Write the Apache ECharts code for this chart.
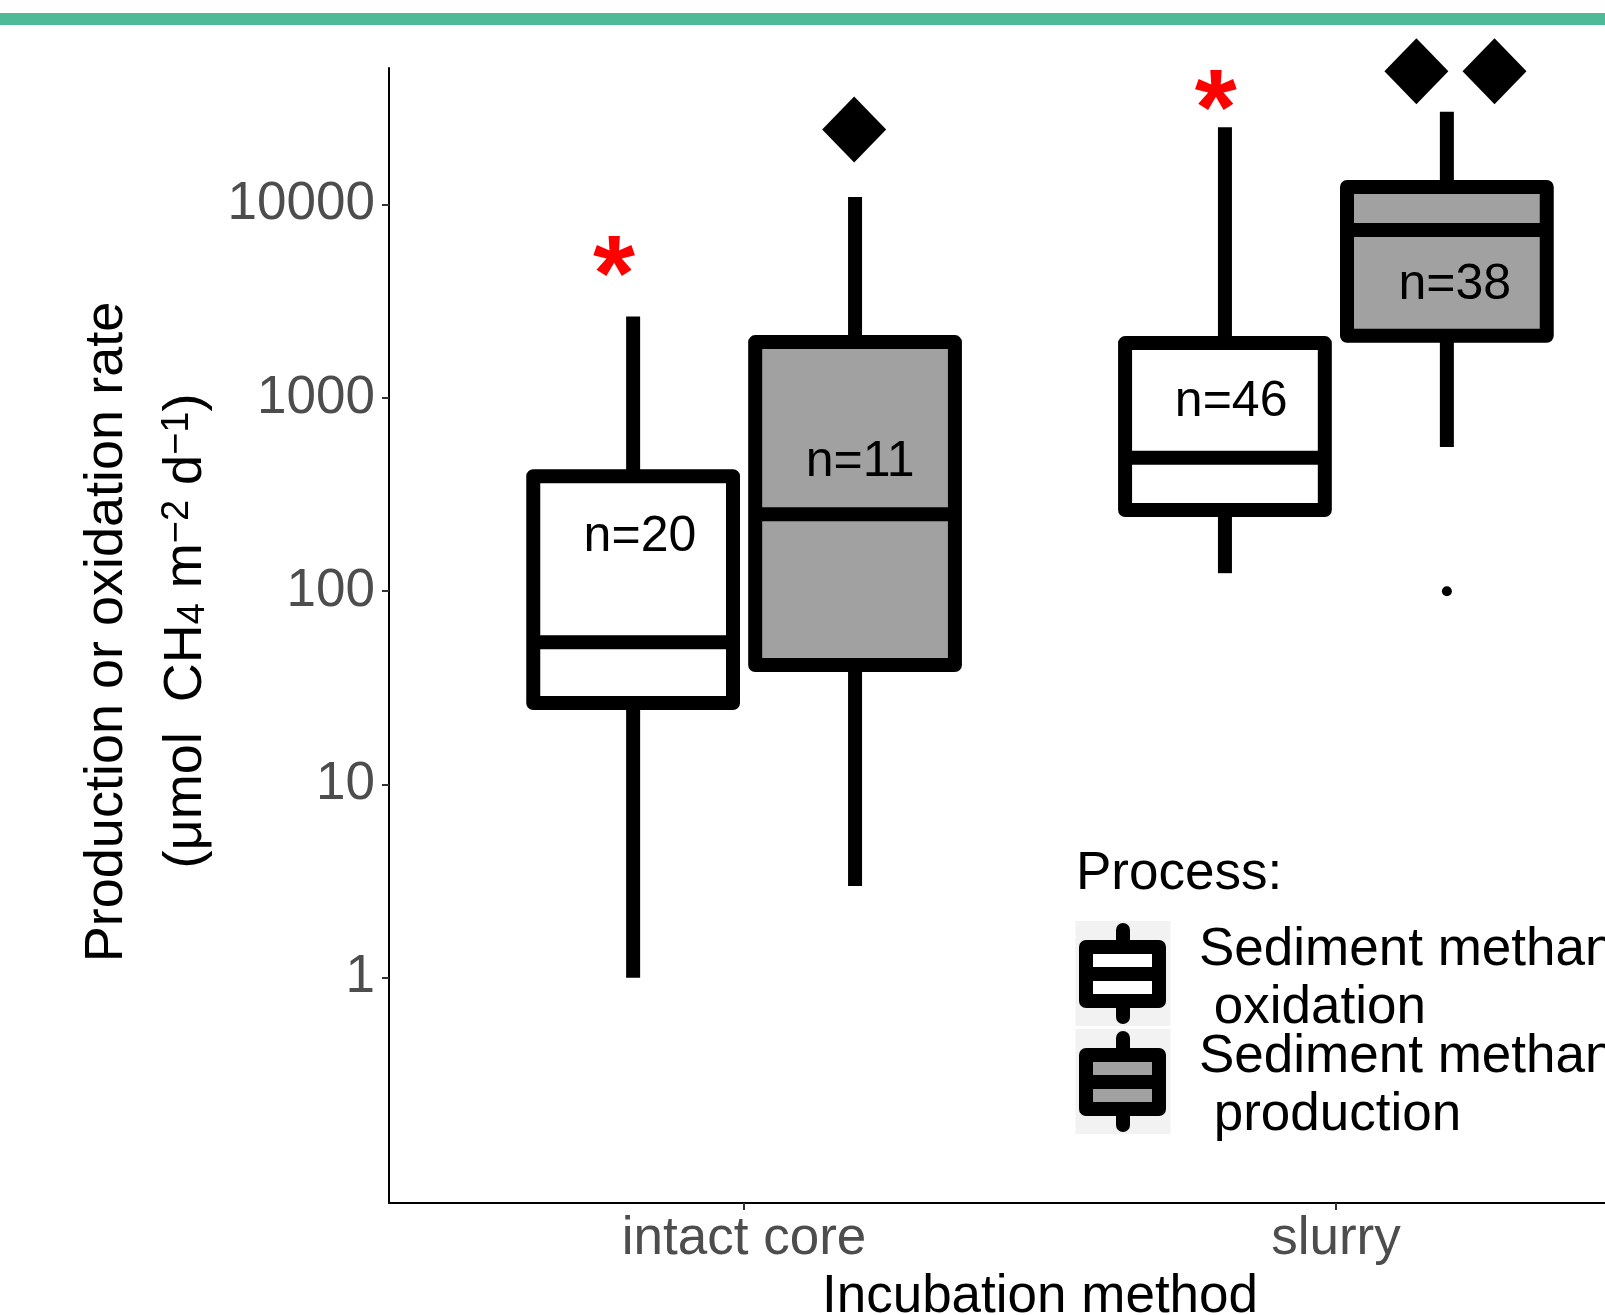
<!DOCTYPE html>
<html>
<head>
<meta charset="utf-8">
<script src="https://cdn.jsdelivr.net/npm/echarts@6/dist/echarts.min.js"></script>
<style>
  html, body { margin: 0; padding: 0; background: #fff; }
  #chart { width: 1605px; height: 1315px; }
</style>
</head>
<body>
<div id="chart"></div>
<script>
// categories on the x axis (placed at 1 and 2 on a continuous axis, like ggplot)
const categories = ['intact core', 'slurry']
// box stats: [min, Q1, median, Q3, max]
const oxidationStats = [[1.0, 26.4, 54.5, 394, 2640], [124, 263, 491, 1923, 25200]]
const productionStats = [[2.98, 41.5, 250, 1946, 10970], [557, 2100, 7400, 12350, 30300]]
const yTicks = [1, 10, 100, 1000, 10000]

// annotations
const nLabelText = ['n=20', 'n=11', 'n=46', 'n=38']
const nLabelX = [0.824, 1.196, 1.823, 2.201]
const nLabelY = [200, 490, 1000, 4000]
const starX = [0.780, 1.797]
const starY = [5380, 38800]
const diamondX = [1.186, 2.136, 2.268]
const diamondY = [24500, 49000, 49000]
const outlierX = [2.1875]
const outlierY = [100]

const FONT = 'Liberation Sans, Arial, Helvetica, sans-serif'
const DODGE = 0.1875
const BOX_W = 0.3375
const LW = 14

const chart = echarts.init(document.getElementById('chart'))

function boxRender(offset, fill) {
  return function (params, api) {
    const x = api.value(0) + offset
    const pMin = api.coord([x, api.value(1)])
    const pQ1 = api.coord([x, api.value(2)])
    const pMed = api.coord([x, api.value(3)])
    const pQ3 = api.coord([x, api.value(4)])
    const pMax = api.coord([x, api.value(5)])
    const left = api.coord([x - BOX_W / 2, api.value(3)])[0]
    const right = api.coord([x + BOX_W / 2, api.value(3)])[0]
    const lineStyle = { stroke: '#000', lineWidth: LW, lineCap: 'butt' }
    return {
      type: 'group',
      children: [
        { type: 'line', shape: { x1: pMax[0], y1: pMax[1], x2: pQ3[0], y2: pQ3[1] }, style: lineStyle },
        { type: 'line', shape: { x1: pQ1[0], y1: pQ1[1], x2: pMin[0], y2: pMin[1] }, style: lineStyle },
        {
          type: 'rect',
          shape: { x: left, y: pQ3[1], width: right - left, height: pQ1[1] - pQ3[1] },
          style: { fill: fill, stroke: '#000', lineWidth: LW, lineJoin: 'round' }
        },
        { type: 'line', shape: { x1: left, y1: pMed[1], x2: right, y2: pMed[1] }, style: lineStyle }
      ]
    }
  }
}

function textRender(texts, fontSize, weight, color, dy) {
  return function (params, api) {
    const p = api.coord([api.value(0), api.value(1)])
    return {
      type: 'text',
      x: p[0],
      y: p[1] + dy,
      style: {
        text: texts[params.dataIndex],
        align: 'center',
        verticalAlign: 'middle',
        fill: color,
        font: weight + ' ' + fontSize + 'px ' + FONT
      }
    }
  }
}

const oxData = oxidationStats.map((s, i) => [i + 1].concat(s))
const prData = productionStats.map((s, i) => [i + 1].concat(s))
const nData = nLabelX.map((x, i) => [x, nLabelY[i]])
const starData = starX.map((x, i) => [x, starY[i]])

// legend key glyph (ggplot style boxplot key)
function legendKey(y0, fill) {
  return [
    { type: 'rect', shape: { x: 1075.5, y: y0, width: 95, height: 105 }, style: { fill: '#f2f2f2' } },
    { type: 'line', shape: { x1: 1123, y1: y0 + 9, x2: 1123, y2: y0 + 96 }, style: { stroke: '#000', lineWidth: LW, lineCap: 'round' } },
    { type: 'rect', shape: { x: 1086, y: y0 + 26, width: 73, height: 54 }, style: { fill: fill, stroke: '#000', lineWidth: LW, lineJoin: 'round' } },
    { type: 'line', shape: { x1: 1086, y1: y0 + 53, x2: 1159, y2: y0 + 53 }, style: { stroke: '#000', lineWidth: LW } }
  ]
}

const option = {
  backgroundColor: '#fff',
  animation: false,
  grid: { left: 389, top: 68, width: 1302, height: 1135, containLabel: false, outerBoundsMode: 'none' },
  xAxis: {
    type: 'value',
    min: 0.4,
    max: 2.6,
    name: 'Incubation method',
    nameLocation: 'middle',
    nameGap: 65,
    nameTextStyle: { color: '#000', fontSize: 53, fontFamily: FONT },
    splitLine: { show: false },
    axisLine: { lineStyle: { color: '#000', width: 2 } },
    axisTick: { show: true, length: 7, lineStyle: { color: '#333', width: 2 }, customValues: [1, 2] },
    axisLabel: {
      color: '#4d4d4d', fontSize: 53, fontFamily: FONT, margin: 10,
      customValues: [1, 2],
      formatter: function (v) { return categories[Math.round(v) - 1] || '' }
    }
  },
  yAxis: {
    type: 'log',
    logBase: 10,
    min: 0.0683,
    max: 51000,
    splitLine: { show: false },
    axisLine: { show: true, lineStyle: { color: '#000', width: 2 } },
    axisTick: { show: true, length: 7, lineStyle: { color: '#333', width: 2 }, customValues: yTicks },
    axisLabel: {
      color: '#4d4d4d', fontSize: 53, fontFamily: FONT, margin: 14,
      padding: [6, 0, 0, 0],
      customValues: yTicks,
      formatter: function (v) { return String(Math.round(v)) }
    }
  },
  series: [
    { type: 'custom', name: 'oxidation', renderItem: boxRender(-DODGE, '#ffffff'), data: oxData, encode: { x: 0, y: [1, 2, 3, 4, 5] }, z: 2 },
    { type: 'custom', name: 'production', renderItem: boxRender(DODGE, '#a1a1a1'), data: prData, encode: { x: 0, y: [1, 2, 3, 4, 5] }, z: 2 },
    { type: 'custom', name: 'n', renderItem: textRender(nLabelText, 50, 'normal', '#000', 4), data: nData, encode: { x: 0, y: 1 }, z: 3 },
    { type: 'custom', name: 'stars', renderItem: textRender(['*', '*'], 108, 'bold', '#ff0000', 23), data: starData, encode: { x: 0, y: 1 }, z: 3 },
    {
      type: 'scatter', name: 'diamonds', symbol: 'diamond', symbolSize: [64, 66],
      itemStyle: { color: '#000', opacity: 1 },
      data: diamondX.map((x, i) => [x, diamondY[i]]), z: 3
    },
    {
      type: 'scatter', name: 'outliers', symbol: 'circle', symbolSize: 10,
      itemStyle: { color: '#000', opacity: 1 },
      data: outlierX.map((x, i) => [x, outlierY[i]]), z: 3
    }
  ],
  graphic: [
    { type: 'rect', shape: { x: 0, y: 13, width: 1605, height: 12 }, style: { fill: '#4fba97' } },
    {
      type: 'text', x: 107, y: 632, rotation: Math.PI / 2,
      style: { text: 'Production or oxidation rate', align: 'center', verticalAlign: 'middle', fill: '#000', font: '54px ' + FONT }
    },
    {
      type: 'text', x: 186, y: 631, rotation: Math.PI / 2,
      style: {
        text: '(μmol  CH{sub|4} m{sup|−2} d{sup|−1})',
        align: 'center', verticalAlign: 'middle', fill: '#000', font: '54px ' + FONT,
        rich: {
          sub: { fontSize: 38, fontFamily: FONT, fill: '#000', verticalAlign: 'bottom', lineHeight: 14 },
          sup: { fontSize: 38, fontFamily: FONT, fill: '#000', verticalAlign: 'top', lineHeight: 14 }
        }
      }
    },
    {
      type: 'text', x: 1076, y: 874,
      style: { text: 'Process:', align: 'left', verticalAlign: 'middle', fill: '#000', font: '53px ' + FONT }
    },
    ...legendKey(921, '#ffffff'),
    ...legendKey(1029, '#a1a1a1'),
    {
      type: 'text', x: 1199, y: 979,
      style: { text: 'Sediment methane\n oxidation', align: 'left', verticalAlign: 'middle', fill: '#000', font: '53px ' + FONT, lineHeight: 58 }
    },
    {
      type: 'text', x: 1199, y: 1086,
      style: { text: 'Sediment methane\n production', align: 'left', verticalAlign: 'middle', fill: '#000', font: '53px ' + FONT, lineHeight: 58 }
    }
  ]
}

chart.setOption(option)
</script>
</body>
</html>
